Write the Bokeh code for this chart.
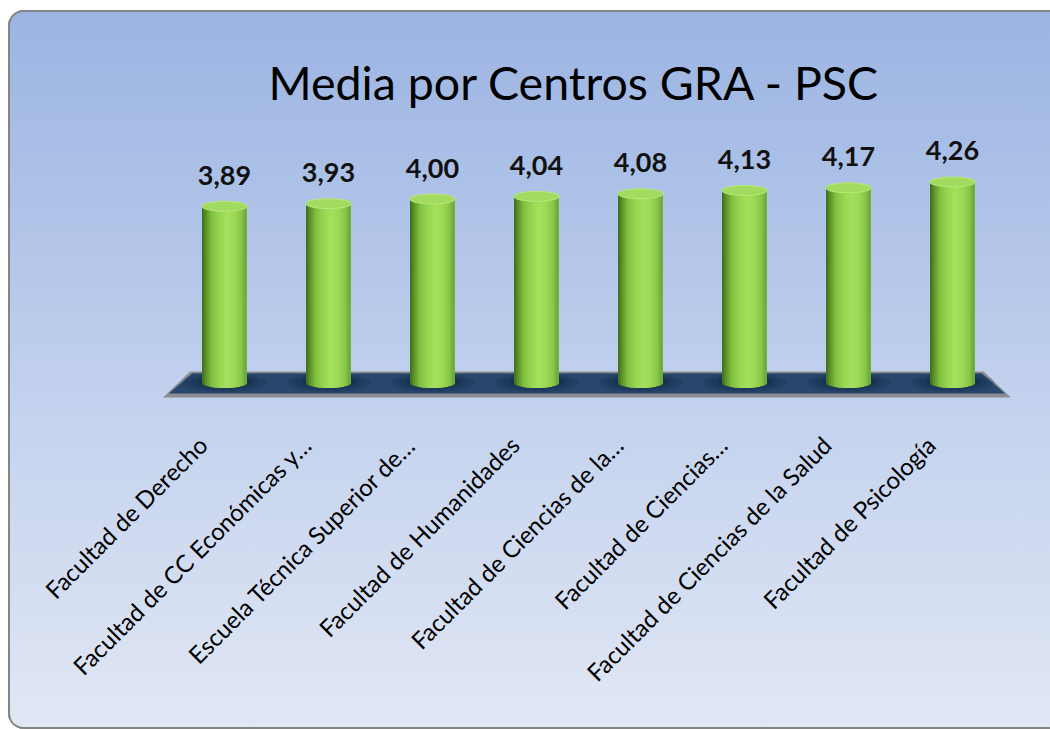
import math
from bokeh.plotting import figure
from bokeh.models import Range1d, FixedTicker, ColumnDataSource
from bokeh.embed import file_html
from bokeh.resources import INLINE
from bokeh.core.properties import value

# ---------------- data ----------------
title_text = "Media por Centros GRA - PSC"
categories = [
    "Facultad de Derecho",
    "Facultad de CC Económicas y…",
    "Escuela Técnica Superior de…",
    "Facultad de Humanidades",
    "Facultad de Ciencias de la…",
    "Facultad de Ciencias…",
    "Facultad de Ciencias de la Salud",
    "Facultad de Psicología",
]
means = [3.89, 3.93, 4.00, 4.04, 4.08, 4.13, 4.17, 4.26]
value_labels = [f"{m:.2f}".replace(".", ",") for m in means]

# ---------------- style ----------------
FONT = "Lato"
BASE = 1.2          # value axis start (bars grow from here)
BAR_W = 0.42
EH = 0.076          # half height of the cylinder end ellipses (data units)
N_STRIPS = 24
LABEL_SHIFT = 0.21

stops = [
    (-1.00, (62, 106, 24)),
    (-0.80, (94, 150, 40)),
    (-0.55, (128, 192, 64)),
    (-0.20, (150, 214, 82)),
    (0.15, (164, 224, 94)),
    (0.50, (154, 216, 85)),
    (0.80, (136, 200, 72)),
    (1.00, (108, 166, 56)),
]


def shade(t):
    for (t0, c0), (t1, c1) in zip(stops[:-1], stops[1:]):
        if t0 <= t <= t1:
            f = (t - t0) / (t1 - t0)
            c = [round(a + (b - a) * f) for a, b in zip(c0, c1)]
            return "#%02x%02x%02x" % tuple(c)
    return "#%02x%02x%02x" % stops[-1][1]


n = len(categories)
idx = list(range(n))

p = figure(
    width=1042, height=719,
    x_range=Range1d(-0.615, 7.577), y_range=Range1d(0.934, 5.043),
    output_backend="svg", toolbar_location=None, y_axis_location=None,
    min_border_left=152, min_border_right=38, min_border_top=120, min_border_bottom=329,
    title=title_text,
)
p.styles = {
    "background": "linear-gradient(to bottom, #9bb4e2 0%, #c3d2ee 55%, #e1e7f4 100%)",
    "border-radius": "16px 0 0 16px",
    "box-shadow": "inset 2px 0 0 #858585, inset 0 2px 0 #858585, inset 0 -2px 0 #858585",
    "margin-left": "8px",
    "margin-top": "10px",
}
p.background_fill_alpha = 0
p.border_fill_alpha = 0
p.outline_line_color = None
p.grid.visible = False

p.title.text_font = FONT
p.title.text_font_size = "46.5px"
p.title.text_font_style = "normal"
p.title.text_color = "#000000"
p.title.align = "left"
p.title.offset = 108
p.title.standoff = 41

# ---- floor (3D base plate) ----
y_top, y_mid, y_bot = 1.375, 1.040, 0.979
p.patch([-0.33, n - 1 + 0.30, n - 1 + 0.56, -0.59], [y_top, y_top, y_bot, y_bot],
        fill_color="#8a8c90", line_color=None)
p.patch([-0.31, n - 1 + 0.28, n - 1 + 0.505, -0.535], [y_top - 0.025, y_top - 0.025, y_mid, y_mid],
        fill_color="#27476c", line_color=None)

# shadows under cylinders
for w, h, a in [(0.80, 0.30, 0.18), (0.66, 0.24, 0.25), (0.52, 0.18, 0.35)]:
    p.ellipse(x=idx, y=[BASE + 0.01] * n, width=w, height=h,
              fill_color="#0f2340", fill_alpha=a, line_color=None)

# ---- cylinders ----
xs, bots, tops, cols = [], [], [], []
sw = BAR_W / N_STRIPS
for i, m in zip(idx, means):
    for k in range(N_STRIPS):
        t = -1 + (2 * k + 1) / N_STRIPS
        xs.append(i + t * BAR_W / 2)
        bots.append(BASE - EH * math.sqrt(max(0.0, 1 - t * t)))
        tops.append(m)
        cols.append(shade(t))
src = ColumnDataSource(dict(x=xs, bottom=bots, top=tops, color=cols))
p.vbar(x="x", bottom="bottom", top="top", width=sw * 1.7, source=src,
       fill_color="color", line_color=None)
p.ellipse(x=idx, y=means, width=BAR_W * 1.04, height=2 * EH,
          fill_color="#a2db60", line_color="#b6e87a", line_width=1)

# ---- value labels ----
p.text(x=idx, y=means, text=value_labels, text_align="center", text_baseline="alphabetic",
       y_offset=-31, text_font=value(FONT), text_font_style="bold",
       text_font_size="27px", text_color="#111111")

# ---- category axis ----
ticks = [i - LABEL_SHIFT for i in idx]
p.xaxis.ticker = FixedTicker(ticks=ticks)
p.xaxis.major_label_overrides = {t: c for t, c in zip(ticks, categories)}
p.xaxis.major_label_orientation = math.pi / 4
p.xaxis.axis_line_color = None
p.xaxis.major_tick_line_color = None
p.xaxis.minor_tick_line_color = None
p.xaxis.major_tick_out = 0
p.xaxis.major_label_standoff = 40
p.xaxis.major_label_text_font = FONT
p.xaxis.major_label_text_font_size = "24px"
p.xaxis.major_label_text_color = "#000000"

open("out.html", "w").write(file_html(p, INLINE))
